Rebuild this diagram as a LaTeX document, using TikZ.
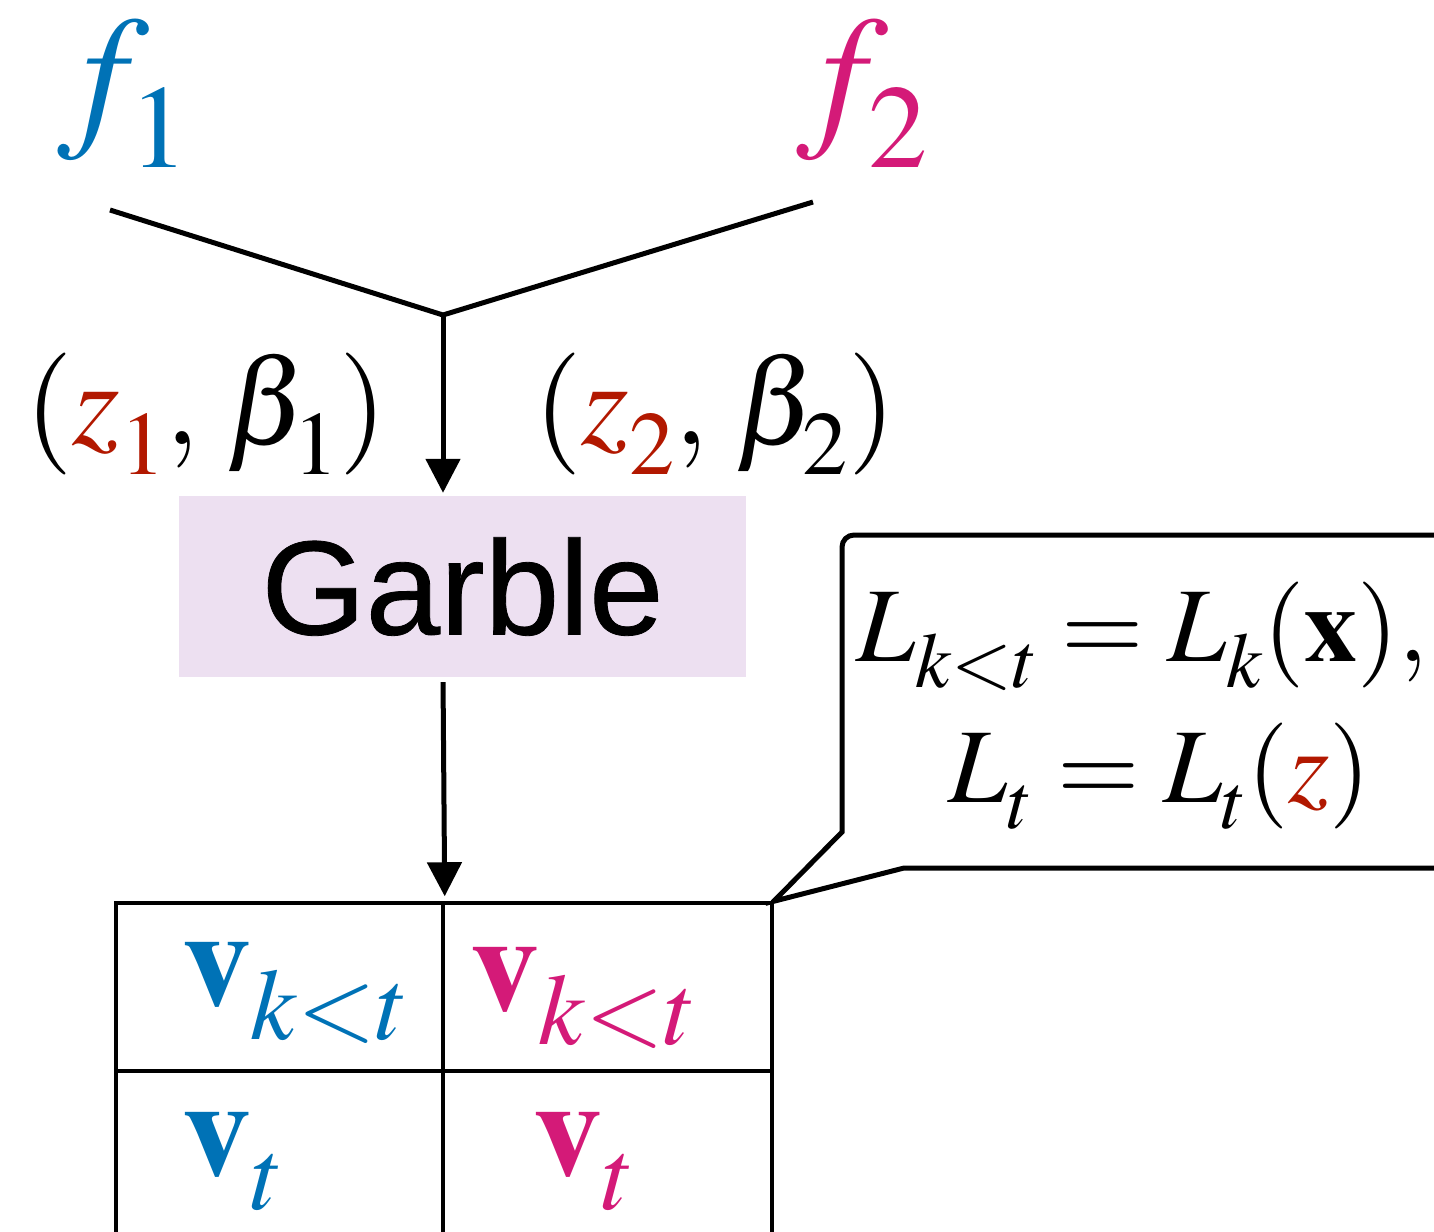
\documentclass[tikz,border=0pt]{standalone}
\usepackage{mathptmx}
\usepackage[no-math]{fontspec}
\newfontfamily\garblefont[FakeBold=0.6]{Liberation Sans}
\usetikzlibrary{arrows.meta}

\definecolor{fblue}{RGB}{0,114,182}
\definecolor{fpink}{RGB}{212,26,120}
\definecolor{zred}{RGB}{178,24,0}
\definecolor{garblebg}{RGB}{237,224,241}

% lower subscripts, as in the drawing
\newcommand\subdrop{\fontdimen16\textfont2=.25em \fontdimen17\textfont2=.25em }

\tikzset{
  fs/.style={font=\fontsize{#1}{#1}\selectfont, inner sep=0pt},
  conn/.style={line width=5pt},
  arr/.style={line width=5pt, -{Triangle[length=34pt,width=34pt]}},
  cell/.style={draw, line width=3.5pt, minimum width=327pt, minimum height=168pt, inner sep=0pt}
}

\begin{document}
\begin{tikzpicture}[x=1pt,y=-1pt]
        \clip (0,0) rectangle (1434,1231);
        % inputs
        \node[fs=160, text=fblue, anchor=base west] (f1) at (57,127) {$\subdrop f_1$};
        \node[fs=160, text=fpink, anchor=base west] (f2) at (796,127) {$\subdrop f_2$};
        \node[fs=122, anchor=base] (pair1) at (206,444) {$\subdrop(\textcolor{zred}{z_1},\,\beta_1)$};
        \node[fs=122, anchor=base] (pair2) at (715,444) {$\subdrop(\textcolor{zred}{z_2},\,\beta_2)$};
        % garble
        \node[fill=garblebg, minimum width=567pt, minimum height=181pt, inner sep=0pt,
              font=\garblefont\fontsize{134}{134}\selectfont] (garble) at (462.5,586.5) {Garble};
        % table
        \node[cell] (c11) at (279.5,987) {};
        \node[cell, minimum width=329pt] (c12) at (607.5,987) {};
        \node[cell] (c21) at (279.5,1155) {};
        \node[cell, minimum width=329pt] (c22) at (607.5,1155) {};
        \node[fs=137, text=fblue, anchor=base west] (v11) at (182,1005) {$\subdrop\mathbf{v}_{k<t}$};
        \node[fs=137, text=fpink, anchor=base] (v12) at (584,1010) {$\subdrop\mathbf{v}_{k<t}$};
        \node[fs=137, text=fblue, anchor=base west] (v21) at (182,1175) {$\subdrop\mathbf{v}_{t}$};
        \node[fs=137, text=fpink, anchor=base] (v22) at (584,1175) {$\subdrop\mathbf{v}_{t}$};
        % lines
        \coordinate (in1) at (110,210);\coordinate (in2) at (813,202);\coordinate (join) at (443,315);
        \draw[conn] (in1) -- (join) -- (in2);
        \draw[arr, shorten >=3pt] (join) -- (join |- garble.north);
        \draw[arr, shorten <=5pt, shorten >=5pt] (join |- garble.south) -- (c11.north east);
        % callout
        \draw[line width=5pt] (1440,535) -- (854,535) arc[start angle=270, end angle=180, radius=12]
              -- (842,832) -- (c12.north east) -- (904,868) -- (1440,868);
        \node[fs=106, anchor=base] (cond1) at (1142,661) {$\subdrop L_{k<t} = L_k(\mathbf{x}),$};
        \node[fs=106, anchor=base] (cond2) at (1160,802) {$\subdrop L_t = L_t(\textcolor{zred}{z})$};
\end{tikzpicture}
\end{document}
